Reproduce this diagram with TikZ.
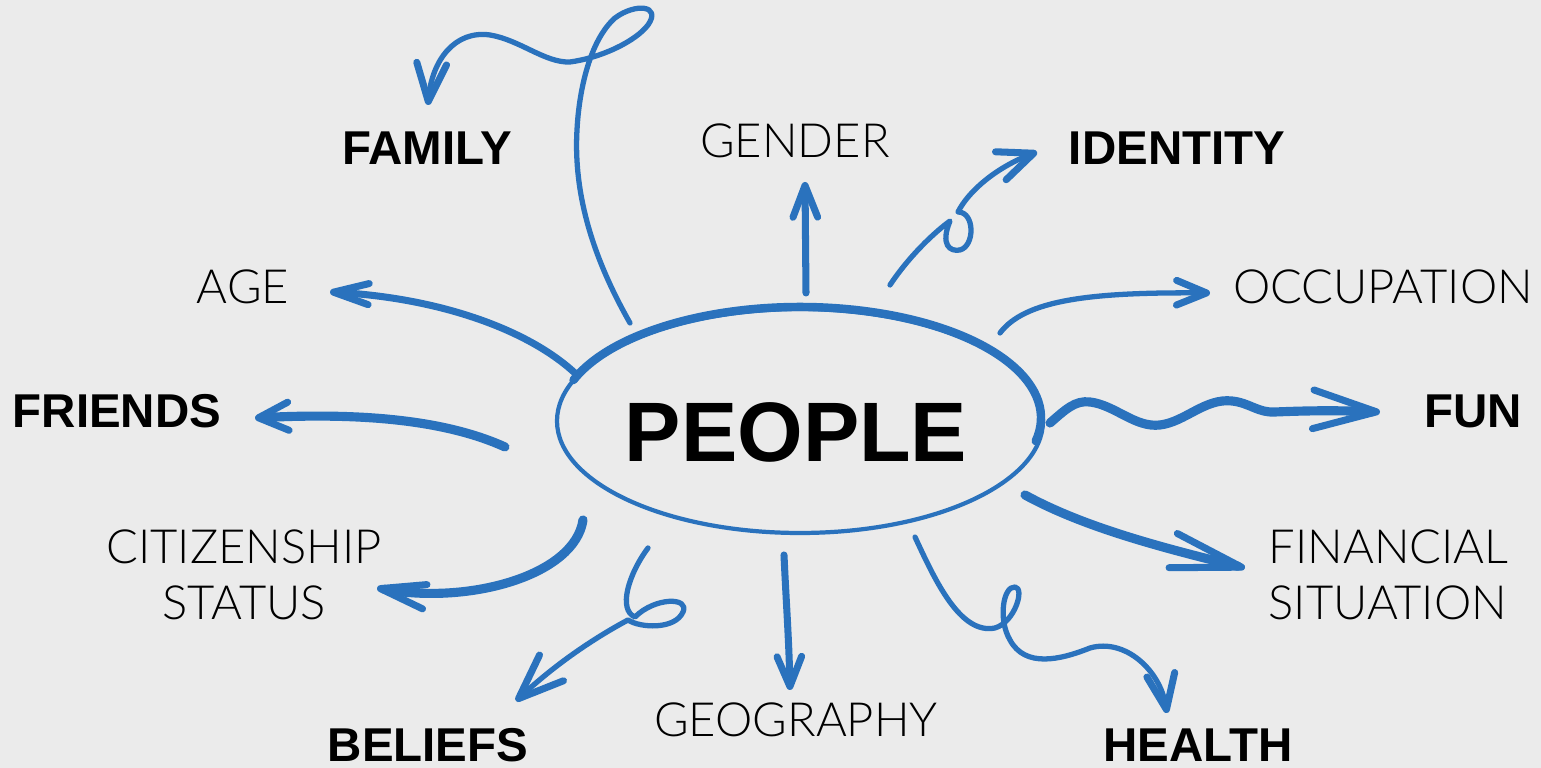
\documentclass[tikz,border=0pt]{standalone}
\usepackage{fontspec}
\setmainfont{Liberation Sans}
\newfontfamily\lightfont{Lato Light}
\usetikzlibrary{arrows.meta}
\definecolor{ink}{RGB}{42,114,189}
\definecolor{paper}{RGB}{235,235,235}
\tikzset{
  big/.style={font=\bfseries\fontsize{13.5}{15}\selectfont,inner sep=0pt},
  thin/.style={font=\lightfont\fontsize{13.4}{15.9}\selectfont,inner sep=0pt},
  pen/.style={draw=ink,line width=1.5pt,line cap=round,line join=round},
  fatpen/.style={pen,line width=2.6pt},
  head/.style 2 args={-{Straight Barb[round,length=#1,width=#2,line width=2pt]}},
}
\begin{document}
\begin{tikzpicture}[x=0.01cm,y=-0.01cm]
	\path[use as bounding box,fill=paper] (0,0) rectangle (1541,768);
	\node[big] (family) at (427,148) {FAMILY};
	\node[thin] (gender) at (795,141) {GENDER};
	\node[big] (identity) at (1177,148) {IDENTITY};
	\node[thin] (age) at (243,287) {AGE};
	\node[thin] (occupation) at (1383,287) {OCCUPATION};
	\node[big] (friends) at (117,411) {FRIENDS};
	\node[big] (fun) at (1473,411) {FUN};
	\node[thin,align=center] (citizenship) at (244,575) {CITIZENSHIP\\STATUS};
	\node[thin,align=left,anchor=west] (financial) at (1268,575) {FINANCIAL\\SITUATION};
	\node[big] (beliefs) at (428,745) {BELIEFS};
	\node[thin] (geography) at (796,720) {GEOGRAPHY};
	\node[big] (health) at (1198,745) {HEALTH};
	\node[font=\bfseries\fontsize{24}{28}\selectfont,inner sep=0pt] (people) at (796,432) {PEOPLE};
	\draw[pen,line width=1.2pt] (800,421) ellipse[x radius=243,y radius=112];
	\draw[pen,line width=2.4pt] ([shift={(200:241 and 111)}]800,418) arc[start angle=200,end angle=372,x radius=241,y radius=111];
	\coordinate (famA) at (630,323);
	\coordinate (famB) at (428,105);
	\coordinate (genA) at (806,293);
	\coordinate (genB) at (805,182);
	\coordinate (idA) at (890,285);
	\coordinate (idB) at (1037,152);
	\coordinate (occA) at (1000,333);
	\coordinate (occB) at (1210,293);
	\coordinate (funA) at (1050,423);
	\coordinate (funB) at (1380,412);
	\coordinate (finA) at (1025,495);
	\coordinate (finB) at (1245,568);
	\coordinate (heaA) at (915,537);
	\coordinate (heaB) at (1167,713);
	\coordinate (geoA) at (784,555);
	\coordinate (geoB) at (790,690);
	\coordinate (belA) at (648,548);
	\coordinate (belB) at (516,701);
	\coordinate (citA) at (583,520);
	\coordinate (citB) at (377,588);
	\coordinate (friA) at (505,447);
	\coordinate (friB) at (255,418);
	\coordinate (ageA) at (577,375);
	\coordinate (ageB) at (330,292);
	\draw[pen,head={10.8pt}{8.5pt}] (famA) .. controls (597,265) and (573,200) .. (577,130) .. controls (579,90) and (590,40) .. (615,18) .. controls (635,3) and (662,5) .. (648,25) .. controls (635,42) and (600,58) .. (570,62) .. controls (545,63) and (520,40) .. (490,35) .. controls (455,30) and (432,60) .. (famB);
	\draw[pen,line width=2pt,head={9pt}{7pt}] (genA) -- (genB);
	\draw[pen,head={10pt}{8.5pt}] (idA) .. controls (910,255) and (935,232) .. (950,221) .. controls (940,245) and (950,252) .. (960,250) .. controls (975,246) and (975,212) .. (958,212) .. controls (968,192) and (995,168) .. (idB);
	\draw[pen,head={8.5pt}{7pt}] (occA) .. controls (1025,300) and (1090,292) .. (occB);
	\draw[fatpen,head={18pt}{11pt}] (funA) .. controls (1065,410) and (1075,400) .. (1090,402) .. controls (1115,405) and (1135,428) .. (1160,425) .. controls (1185,422) and (1205,398) .. (1232,401) .. controls (1250,403) and (1258,413) .. (1275,412) .. controls (1300,411) and (1330,410) .. (funB);
	\draw[fatpen,head={20pt}{10pt}] (finA) .. controls (1080,525) and (1150,545) .. (finB);
	\draw[pen,head={10pt}{8pt}] (heaA) .. controls (935,580) and (960,635) .. (995,628) .. controls (1015,622) and (1025,588) .. (1015,587) .. controls (1003,586) and (998,620) .. (1010,640) .. controls (1025,668) and (1060,660) .. (1090,648) .. controls (1125,638) and (1160,670) .. (heaB);
	\draw[pen,line width=2pt,head={8.5pt}{7pt}] (geoA) .. controls (786,600) and (789,640) .. (geoB);
	\draw[pen,head={12.8pt}{10pt}] (belA) .. controls (628,575) and (618,610) .. (635,617) .. controls (655,597) and (690,597) .. (683,612) .. controls (675,630) and (640,628) .. (628,620) .. controls (600,635) and (560,660) .. (belB);
	\draw[fatpen,head={12.8pt}{7pt}] (citA) .. controls (575,575) and (470,605) .. (citB);
	\draw[fatpen,head={8.5pt}{8pt}] (friA) .. controls (450,422) and (370,412) .. (friB);
	\draw[pen,line width=2pt,head={10pt}{6pt}] (ageA) .. controls (530,330) and (440,298) .. (ageB);
\end{tikzpicture}
\end{document}
